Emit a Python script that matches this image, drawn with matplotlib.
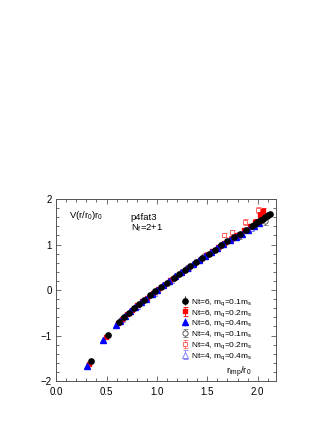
import matplotlib
matplotlib.use("Agg")
import matplotlib.pyplot as plt
from matplotlib.ticker import MultipleLocator

# ---- data ----
x_b6 = [0.344, 0.51, 0.62, 0.67, 0.72, 0.77, 0.82, 0.87, 0.93, 0.98, 1.04, 1.10, 1.17,
        1.22, 1.28, 1.33, 1.39, 1.45, 1.52, 1.58, 1.64, 1.70, 1.76, 1.82, 1.88, 1.94,
        1.97, 1.99, 2.01, 2.03, 2.05, 2.07, 2.09, 2.10, 2.12]
y_b6 = [-1.57, -0.99, -0.70, -0.59, -0.50, -0.40, -0.31, -0.22, -0.12, -0.03, 0.07, 0.16, 0.27,
        0.35, 0.44, 0.52, 0.61, 0.70, 0.80, 0.89, 0.98, 1.07, 1.16, 1.24, 1.33, 1.41,
        1.45, 1.49, 1.51, 1.54, 1.57, 1.60, 1.62, 1.64, 1.67]
e_b6 = [0.01] * len(x_b6)

x_r6 = [0.327, 0.49, 0.61, 0.65, 0.70, 0.75, 0.80, 0.85, 0.90, 0.96, 1.01, 1.07, 1.13,
        1.19, 1.25, 1.31, 1.37, 1.43, 1.49, 1.55, 1.61, 1.67, 1.73, 1.79, 1.86, 1.92,
        1.97, 2.02, 2.05]
y_r6 = [-1.62, -1.04, -0.72, -0.64, -0.53, -0.43, -0.34, -0.25, -0.17, -0.06, 0.03, 0.12, 0.22,
        0.31, 0.40, 0.49, 0.58, 0.67, 0.76, 0.85, 0.95, 1.04, 1.13, 1.20, 1.31, 1.40,
        1.50, 1.65, 1.73]
e_r6 = [0.0, 0.0, 0.0, 0.0, 0.0, 0.0, 0.0, 0.0, 0.0, 0.0, 0.0, 0.0, 0.0,
        0.0, 0.0, 0.0, 0.0, 0.0, 0.0, 0.0, 0.04, 0.04, 0.05, 0.05, 0.05, 0.06,
        0.06, 0.07, 0.08]

x_l6 = [0.31, 0.47, 0.59, 0.63, 0.68, 0.73, 0.78, 0.84, 0.89, 0.95, 1.00, 1.06, 1.12,
        1.18, 1.24, 1.30, 1.36, 1.42, 1.48, 1.54, 1.60, 1.66, 1.72, 1.78, 1.84, 1.90,
        1.96, 2.01]
y_l6 = [-1.67, -1.10, -0.77, -0.67, -0.57, -0.47, -0.38, -0.27, -0.19, -0.09, 0.00, 0.10, 0.20,
        0.30, 0.39, 0.48, 0.57, 0.66, 0.74, 0.83, 0.92, 1.01, 1.09, 1.16, 1.24, 1.33,
        1.40, 1.47]
e_l6 = [0.01] * 20 + [0.02, 0.02, 0.03, 0.03, 0.03, 0.04, 0.04, 0.05]

x_b4 = [0.64, 0.79, 0.96, 1.15, 1.30, 1.47, 1.63, 1.81, 1.96, 2.07]
y_b4 = [-0.65, -0.37, -0.07, 0.24, 0.48, 0.74, 0.97, 1.18, 1.42, 1.51]
e_b4 = [0.0, 0.0, 0.0, 0.0, 0.0, 0.0, 0.04, 0.06, 0.06, 0.07]

x_r4 = [0.66, 0.81, 0.98, 1.16, 1.32, 1.50, 1.67, 1.74, 1.87, 2.00]
y_r4 = [-0.62, -0.34, -0.04, 0.26, 0.50, 0.80, 1.21, 1.27, 1.50, 1.76]
e_r4 = [0.0, 0.0, 0.0, 0.0, 0.0, 0.0, 0.05, 0.06, 0.06, 0.07]

x_l4 = [0.65, 0.80, 0.97, 1.14, 1.31, 1.48, 1.65, 1.79, 1.93]
y_l4 = [-0.63, -0.36, -0.06, 0.23, 0.49, 0.75, 1.02, 1.20, 1.37]
e_l4 = [0.0, 0.0, 0.0, 0.0, 0.0, 0.0, 0.04, 0.05, 0.06]

labels = ["Nt=6, m$_q$=0.1m$_s$", "Nt=6, m$_q$=0.2m$_s$", "Nt=6, m$_q$=0.4m$_s$",
          "Nt=4, m$_q$=0.1m$_s$", "Nt=4, m$_q$=0.2m$_s$", "Nt=4, m$_q$=0.4m$_s$"]

plt.rcParams['font.family'] = ['Liberation Sans', 'DejaVu Sans']
plt.rcParams['mathtext.fontset'] = 'custom'
plt.rcParams['mathtext.rm'] = 'Liberation Sans'
plt.rcParams['mathtext.it'] = 'Liberation Sans'

fig = plt.figure(figsize=(3.32, 4.30), dpi=100)
ax = fig.add_axes([0.169, 0.114, 0.662, 0.423])

ms = 3.8
eb = dict(elinewidth=0.6, capsize=1.8, capthick=0.6)
# open (Nt=4) series first
h4b = ax.errorbar(x_b4, y_b4, yerr=e_b4, fmt='o', ms=ms, mfc='white', mec='#444444',
                  mew=0.6, ecolor='#777777', zorder=2, **eb)
h4r = ax.errorbar(x_r4, y_r4, yerr=e_r4, fmt='s', ms=ms * 0.9, mfc='white', mec='#ff5050',
                  mew=0.6, ecolor='#ff6060', zorder=2, **eb)
h4l = ax.errorbar(x_l4, y_l4, yerr=e_l4, fmt='^', ms=ms, mfc='white', mec='#7070ff',
                  mew=0.6, ecolor='#8080ff', zorder=2, **eb)
# filled (Nt=6) series
h6r = ax.errorbar(x_r6, y_r6, yerr=e_r6, fmt='s', ms=ms * 0.9, color='#ff0000', mec='#ff0000',
                  zorder=3, **eb)
h6l = ax.errorbar(x_l6, y_l6, yerr=e_l6, fmt='^', ms=ms, color='#0000ff', mec='#0000ff',
                  zorder=4, elinewidth=0.6, capsize=0)
h6b = ax.errorbar(x_b6, y_b6, yerr=e_b6, fmt='o', ms=ms, color='black', mec='black',
                  zorder=5, elinewidth=0.6, capsize=0)

ax.set_xlim(0.0, 2.18)
ax.set_ylim(-2, 2)
ax.xaxis.set_major_locator(MultipleLocator(0.5))
ax.xaxis.set_minor_locator(MultipleLocator(0.1))
ax.yaxis.set_major_locator(MultipleLocator(1))
ax.yaxis.set_minor_locator(MultipleLocator(0.2))
ax.xaxis.set_major_formatter(matplotlib.ticker.FormatStrFormatter('%.1f'))
ax.tick_params(which='both', direction='in', top=True, right=True, labelsize=7,
               width=0.6, color='#555555')
ax.tick_params(which='major', length=3.5)
ax.tick_params(which='minor', length=2)
ax.tick_params(axis='x', which='major', pad=4)
ax.tick_params(axis='y', which='major', pad=3)
for s in ax.spines.values():
    s.set_linewidth(0.7)
    s.set_color('#555555')

ax.text(0.06, 0.91, "V(r/r$_0$)r$_0$", transform=ax.transAxes, fontsize=6.8, va='center')
ax.text(0.34, 0.90, "p4fat3", transform=ax.transAxes, fontsize=6.8, va='center')
ax.text(0.34, 0.84, "N$_f$=2+1", transform=ax.transAxes, fontsize=6.8, va='center')
ax.text(0.775, 0.045, "r$_{imp}$/r$_0$", transform=ax.transAxes, fontsize=6.8, va='center')

leg = ax.legend([h6b, h6r, h6l, h4b, h4r, h4l], labels, loc='upper left',
                bbox_to_anchor=(0.555, 0.485), frameon=False, fontsize=6.0,
                handlelength=0.7, handletextpad=0.3, labelspacing=0.0, borderpad=0)

fig.savefig("out.png", dpi=100)
